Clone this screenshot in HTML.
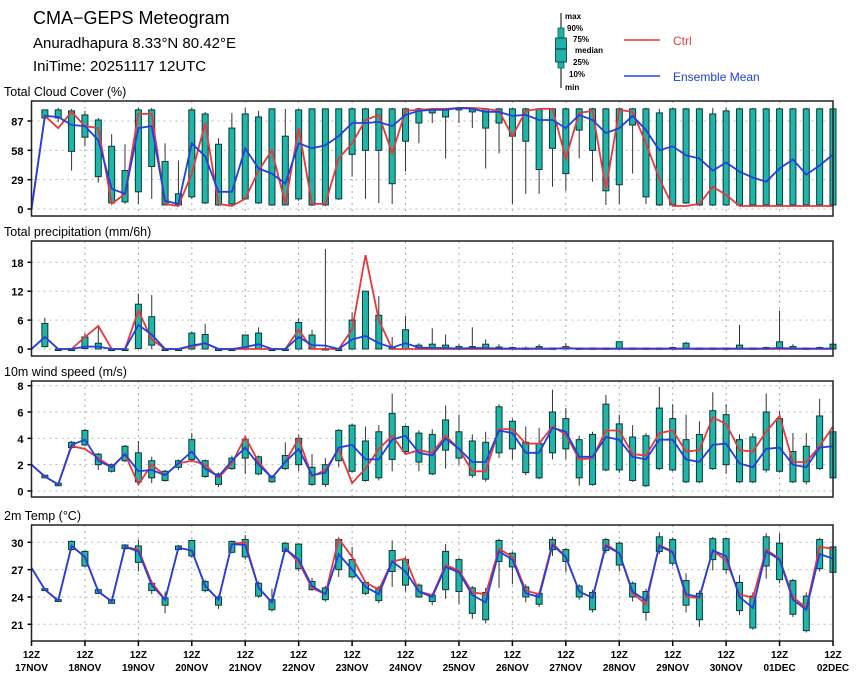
<!DOCTYPE html>
<html><head><meta charset="utf-8"><style>
body{margin:0;background:#fff;}
svg{display:block;font-family:"Liberation Sans",sans-serif;}
</style></head><body>
<svg id="chart" width="860" height="679" viewBox="0 0 860 679" xmlns="http://www.w3.org/2000/svg">
<text x="33" y="24" font-size="18">CMA−GEPS Meteogram</text>
<text x="33" y="48" font-size="15">Anuradhapura 8.33°N 80.42°E</text>
<text x="33" y="71" font-size="15">IniTime: 20251117 12UTC</text>
<g>
<line x1="561" y1="13" x2="561" y2="88" stroke="#000" stroke-width="1"/>
<rect x="558" y="28" width="6" height="40" fill="#20b2aa" stroke="#063" stroke-width="0.8"/>
<rect x="555.5" y="38" width="11" height="24" fill="#20b2aa" stroke="#033" stroke-width="0.8"/>
<line x1="555.5" y1="49" x2="566.5" y2="49" stroke="#033"/>
<g font-size="8" font-weight="bold">
<text x="565" y="19">max</text><text x="567" y="31">90%</text><text x="573" y="42">75%</text>
<text x="575" y="53">median</text><text x="573" y="65">25%</text><text x="569" y="77">10%</text><text x="565" y="90">min</text>
</g></g>
<g><line x1="624" y1="40" x2="660" y2="40" stroke="#e8383d" stroke-width="1.5"/><text x="673" y="45" font-size="12" fill="#e8383d">Ctrl</text></g>
<g><line x1="624" y1="76" x2="660" y2="76" stroke="#2040e0" stroke-width="1.5"/><text x="673" y="81" font-size="12" fill="#2040e0">Ensemble Mean</text></g>
<g id="plots"></g>
</svg>
<script>
// ---- Total cloud cover (%) ----
const cloudCtrl=[0,92,80,96,82,80,5,15,94,94,5,3,35,85,5,3,10,38,58,5,80,5,5,50,65,88,93,55,97,98,99,99,100,100,99,97,72,97,99,99,50,95,97,20,98,96,65,30,3,3,5,22,14,3,3,3,3,3,3,3,3];
const cloudMean=[0,92,91,83,82,68,20,15,80,82,8,5,65,52,17,17,60,40,35,25,65,60,63,72,85,85,86,82,93,97,98,98,100,99,96,96,92,93,88,88,80,93,88,75,80,92,78,58,62,53,50,38,46,37,31,27,40,49,34,43,54];
const cloudQ1=[null,90,90,57,71,32,6,7,17,42,4,4,12,6,4,5,10,6,4,4,10,4,4,10,54,58,58,25,67,85,95,91,98,96,80,85,72,67,39,60,35,78,58,18,24,83,12,4,4,6,4,4,4,4,4,4,4,4,4,4,4];
const cloudQ3=[null,98,98,97,93,88,62,38,98,98,47,15,98,94,64,80,94,91,99,72,98,99,99,99,99,99,99,99,99,99,99,99,100,99,99,99,99,99,99,99,99,99,99,99,99,99,99,95,99,99,99,94,97,99,99,99,99,99,99,99,99];
const cloudMin=[null,88,86,38,62,26,5,5,5,10,4,3,10,5,3,4,9,5,3,4,8,3,3,9,32,10,6,5,37,65,85,50,85,80,40,55,5,15,15,22,18,50,27,4,5,35,5,3,3,5,3,3,3,3,3,3,3,3,3,3,3];
const cloudMax=[null,98,100,99,97,90,74,64,100,100,65,48,100,96,70,95,100,97,99,99,99,99,99,99,100,100,100,100,100,100,100,100,100,100,100,100,100,100,100,100,100,100,100,100,100,100,100,99,100,100,100,100,100,100,100,100,100,100,100,100,100];
// ---- Total precipitation (mm/6h) ----
const precCtrl=[0,2.5,0,0,2.5,4.8,0,0,8,2,0,0,0.5,1.2,0,0,0,0,0,0,4,0,0,0,4,19.5,6,0,0,0,0,0,0,0,0,0,0,0,0,0,0.3,0,0,0,0,0,0,0,0,0,0,0,0,0,0,0,0,0,0,0,0];
const precMean=[0,2.5,0,0,0.5,0.5,0,0,5,3,0,0,0.7,1.2,0,0,0.4,1,0,0,2.5,0.8,0.7,0,2,2.7,1.2,0.3,1.2,0.3,0.2,0.2,0.1,0.2,0.2,0.1,0.1,0.1,0.1,0.1,0.1,0.1,0.1,0.1,0.1,0.1,0.1,0.1,0.1,0.1,0.1,0.1,0.1,0.1,0.1,0.1,0.2,0.1,0.1,0.1,0.1];
const precQ1=[null,0.5,0,0,0.1,0,0,0,0.1,0.8,0,0,0,0,0,0,0,0,0,0,0,0,0,0,0,0,0,0,0,0,0,0,0,0,0,0,0,0,0,0,0,0,0,0,0,0,0,0,0,0,0,0,0,0,0,0,0,0,0,0,0];
const precQ3=[null,5.3,0,0,2.5,1.2,0,0,9.3,6.7,0,0,3.3,3,0,0,2.9,3.3,0,0,5.5,2.9,0.1,0,6,12,7,0.3,4,0.8,1,0.8,0.5,0.5,1,0.4,0.3,0.2,0.5,0.2,0.5,0.2,0.2,0.2,1.5,0.2,0.2,0.2,0.3,1.2,0.2,0.2,0.2,0.8,0.2,0.3,1.5,0.5,0.2,0.3,1];
const precMin=[null,0.3,0,0,0,0,0,0,0,0,0,0,0,0,0,0,0,0,0,0,0,0,0,0,0,0,0,0,0,0,0,0,0,0,0,0,0,0,0,0,0,0,0,0,0,0,0,0,0,0,0,0,0,0,0,0,0,0,0,0,0];
const precMax=[null,6.5,0,0,3.3,4.5,0,0,11.5,11.2,0,0,3.6,5.2,0,0,3,4.5,0,0,6.4,4,20.8,0,7.6,12,11,2.5,6.9,1.2,4.3,3,1,4.5,2,1,0.5,0.5,1,0.3,1.2,0.3,0.3,0.3,1.5,0.3,0.3,0.3,0.5,1.5,0.3,0.3,0.3,5,0.3,0.5,8,1,0.3,0.5,5];
// ---- 10m wind speed (m/s) ----
const windCtrl=[2,1.1,0.5,3.4,3.2,2.5,1.8,2.8,0.5,2,1.2,2.1,2.3,2,1,2.1,4.1,2.2,1,2.2,4,1.1,1.6,3.2,0.6,1.7,3.2,4.2,2.8,3.1,2.9,4.2,3.2,1.5,1.5,4.7,4.7,3.6,3.6,4.9,4.3,2.4,2.5,4.6,4.6,2.8,2.7,4.4,4.6,3,3.1,5.6,5.1,3.1,3,4.5,5.7,2.2,2.2,3.4,4.9];
const windMean=[2,1.1,0.5,3.5,3.9,2.3,1.8,2.8,1.5,1.6,1.2,2.1,3,1.7,1.1,2.3,3.3,2,1,2.2,3.2,1.2,1.4,3.3,3.5,2.4,2.4,3.9,4.2,2.9,2.7,4,3.2,2.2,2.2,4.6,4.4,2.9,2.9,4.8,4.5,2.6,2.6,4.1,3.9,2.6,2.4,3.9,3.9,2.4,2.2,3.5,3.6,2.1,1.8,3.2,3.3,2,1.8,3.3,3.4];
const windQ1=[null,1,0.4,3.3,3.5,2,1.5,2.3,0.7,1,0.8,1.8,2.4,1.1,0.5,1.7,2.5,1.3,0.7,1.7,2,0.5,0.5,2.3,1.5,0.8,1,2.4,3,2.2,1.3,3.1,2.5,1.2,0.9,2.9,3.2,1.4,1,2.9,3.2,1,0.5,1.6,1.6,0.8,0.4,1.7,1.6,0.7,0.7,1.7,2,0.7,0.7,1.6,1.5,0.7,0.7,1.7,1];
const windQ3=[null,1.2,0.6,3.7,4.6,2.8,2,3.4,2.9,2.3,1.5,2.3,3.9,2.3,1.3,2.5,3.9,2.6,1.1,2.7,4,1.8,2,4.6,5,3.8,4.5,5.9,4.9,4.4,4.3,5.4,4.5,3.8,3.7,6.4,5.3,3.7,3.6,6,5.5,3.9,4.3,6.6,5.1,4.1,4.2,6.3,5.5,3.9,4.3,6.1,5.8,3.9,4.1,6,5.5,3,3.4,5.7,4.5];
const windMin=[null,1,0.4,3.2,3.4,1.6,1.4,2.2,0.5,0.6,0.7,1.6,2.2,1,0.3,1.6,1.3,1.2,0.6,1.6,1.5,0.4,0.3,1.8,1.4,0.7,0.8,1.5,2.8,1.5,1.2,1.7,2,1,0.7,2.5,2.4,1.2,0.9,2.4,2.4,0.4,0.4,1.5,1.4,0.7,0.3,1.6,1.5,0.6,0.6,1.6,1.3,0.6,0.6,1.4,1.4,0.6,0.5,1.6,0.9];
const windMax=[null,1.2,0.6,3.8,4.7,2.9,2.1,3.5,3.8,2.6,1.6,2.4,4.4,2.4,1.4,2.7,4.2,2.7,1.2,3.7,4.3,2.8,2.5,4.7,5.1,4.9,5,7.4,5,4.6,4.7,6.5,5.8,4.3,4.5,6.6,5.5,4.9,4.8,7.7,6.3,4.2,4.5,7.3,5.8,5,4.4,7.9,6.6,5.8,5.3,7.5,6.6,4.3,4.4,7.4,6.1,4.4,4.4,7,5.5];
// ---- 2m temperature (°C) ----
const tempCtrl=[27.2,24.8,23.6,29.6,28.4,24.6,23.5,29.5,29.2,25.6,23.7,29.4,29.1,25.2,23.7,29.8,30,25,23.4,29.3,27.8,25,24.3,30.4,28.4,25.6,24.8,27.9,28.2,24.6,24.2,27.5,26.9,24.5,24.3,29.3,28.4,24.7,24.3,29.9,28.4,24.6,23.9,29.8,28.8,24.4,23.2,29.7,29,24,23.9,29.1,28,24.3,23.9,29.2,28.2,24,22.8,29.5,29.3];
const tempMean=[27.2,24.8,23.6,29.6,28.4,24.6,23.5,29.5,29,25.3,23.7,29.4,29.1,25.2,23.7,29.8,29.7,25,23.4,29.3,28.1,25.2,24.3,28.7,27,25.1,24.3,27.9,26.8,24.6,24,27.3,26.7,24.2,23.4,29,28.1,24.4,24,29.7,28.4,24.6,23.9,29.6,28.8,24.6,23.6,29.6,28.9,24.3,24,29.1,28.5,24,22.8,29,28.1,23.7,22.6,28.7,28.2];
const tempQ1=[null,24.7,23.5,29.2,27.4,24.4,23.3,29.3,27.8,24.7,23.1,29.2,28.5,24.7,23.1,28.9,28.4,24.1,22.6,29,27.1,24.8,23.7,27,26.2,24.4,23.6,26.8,25.3,24,23.5,24.8,24.6,22.2,21.5,27.9,27.3,24,23.2,29.2,27.9,24,22.6,29.1,27.5,24,22.3,29,27.7,23.1,21.5,28.1,27,22.5,20.6,27.4,25.9,22.1,20.3,27.1,26.7];
const tempQ3=[null,24.9,23.7,30.1,29,24.8,23.7,29.7,29.6,25.5,23.9,29.6,30.2,25.7,24,30.1,30.3,25.5,23.7,29.9,29.8,25.7,25,30.3,28.1,25.6,25,29.1,28.1,25.3,24.2,29,28.1,25,24.5,30.2,28.8,25.1,24.4,30.3,29.2,25.2,24.5,30.3,29.9,25.5,24.6,30.6,30.3,25.8,24.4,30.4,30.4,25.6,24.1,30.6,29.9,25.8,24.1,30.3,29.5];
const tempMin=[null,24.7,23.5,29.1,27.3,24.3,23.3,29.2,26.8,24.3,22.2,29.1,28.3,24.5,22.7,28.8,28.1,23.9,22.4,28.9,26.8,24.7,23.5,26.2,26,24.2,23.3,25.1,24.6,23.9,23.1,23.8,23.2,21.6,21.1,25,25.4,23.4,22.9,28.5,26.7,23.7,22.3,28.8,26.8,23.5,21.4,28.7,27.4,22.3,20.7,26.9,26.6,22,20.4,26,25.5,21.8,20.1,26.8,26.4];
const tempMax=[null,24.9,23.7,30.2,29.1,24.9,23.8,29.8,30.3,25.8,24.6,29.7,30.3,25.9,24.2,30.2,30.8,25.7,24.9,30,29.9,26.1,25.2,30.5,29.5,25.8,25.2,30.2,28.4,25.5,24.4,29.8,28.3,25.2,25,30.4,29,25.4,24.6,30.6,29.4,25.4,24.8,30.5,30.1,25.7,24.9,31.1,30.5,26.6,24.7,30.6,30.5,26.4,24.5,31,31,26,24.5,30.5,29.8];
const tickCloud=[0,29,58,87], tickPrec=[0,6,12,18], tickWind=[0,2,4,6,8], tickTemp=[21,24,27,30];
const dayLabels=["17NOV","18NOV","19NOV","20NOV","21NOV","22NOV","23NOV","24NOV","25NOV","26NOV","27NOV","28NOV","29NOV","30NOV","01DEC","02DEC"];

const NS="http://www.w3.org/2000/svg";
const root=document.getElementById('plots');
const X0=31.5,X1=833,NSTEP=60;
const xs=i=>X0+(X1-X0)*i/NSTEP;
function el(tag,attrs,parent){const e=document.createElementNS(NS,tag);for(const k in attrs)e.setAttribute(k,attrs[k]);(parent||root).appendChild(e);return e;}

function panel(name,title,top,bot,y0px,v0,y1px,v1,ticks,ctrl,mean,q1,q3,mn,mx){
  const g=el('g',{});
  
  
  const ys=v=>y0px+(v-v0)*(y1px-y0px)/(v1-v0);
  const t=el('text',{x:4,y:top-5,'font-size':12.5},g);t.textContent=title;
  
  
  for(let d=1;d<15;d++){const x=xs(d*4);el('line',{x1:x,x2:x,y1:top,y2:bot,stroke:'#aaa','stroke-dasharray':'2,4','stroke-width':1},g);}
  ticks.forEach(v=>{const y=ys(v);
    el('line',{x1:X0,x2:X1,y1:y,y2:y,stroke:'#bbb','stroke-dasharray':'2,4','stroke-width':1},g);
    el('line',{x1:X0-4,x2:X0,y1:y,y2:y,stroke:'#000','stroke-width':1.5},g);
    const tl=el('text',{x:X0-8,y:y+4.5,'font-size':11,'font-weight':'bold','text-anchor':'end'},g);tl.textContent=v;
    
    
  });
  for(let i=0;i<=NSTEP;i++){ if(q1[i]==null)continue;
    const x=xs(i);
    const w=el('line',{x1:x,x2:x,y1:ys(mn[i]),y2:ys(mx[i]),stroke:'#333','stroke-width':1},g);
    
    
    const a=ys(q3[i]),b=ys(q1[i]);
    const r=el('rect',{x:x-3,y:Math.min(a,b),width:6,height:Math.max(1.5,Math.abs(b-a)),fill:'#1fb5a8',stroke:'#073b36','stroke-width':1},g);
    
    
  }
  const path=arr=>arr.map((v,i)=>(i?'L':'M')+xs(i).toFixed(1)+','+ys(v).toFixed(1)).join('');
  const lc=el('path',{d:path(ctrl),fill:'none',stroke:'#e8383d','stroke-width':1.8},g);
  
  
  const lm=el('path',{d:path(mean),fill:'none',stroke:'#2040e0','stroke-width':1.8},g);
  
  
  el('rect',{x:X0,y:top,width:X1-X0,height:bot-top,fill:'none',stroke:'#222','stroke-width':1.5},g);
}
panel('cloud','Total Cloud Cover (%)',101,216,209,0,121,87,tickCloud,cloudCtrl,cloudMean,cloudQ1,cloudQ3,cloudMin,cloudMax);
panel('precip','Total precipitation (mm/6h)',241,356,349,0,262.3,18,tickPrec,precCtrl,precMean,precQ1,precQ3,precMin,precMax);
panel('wind','10m wind speed (m/s)',381,497,491,0,385.7,8,tickWind,windCtrl,windMean,windQ1,windQ3,windMin,windMax);
panel('temp','2m Temp (°C)',525,641,624.3,21,542.3,30,tickTemp,tempCtrl,tempMean,tempQ1,tempQ3,tempMin,tempMax);
dayLabels.forEach((lab,d)=>{const x=xs(d*4);
  el('line',{x1:x,x2:x,y1:641,y2:646,stroke:'#000','stroke-width':1.5});
  const a=el('text',{x:x,y:658,'font-size':10,'font-weight':'bold','text-anchor':'middle'});a.textContent='12Z';
  
  
  const b=el('text',{x:x,y:671,'font-size':10,'font-weight':'bold','text-anchor':'middle'});b.textContent=lab;
  
  
});
</script>
</body></html>
